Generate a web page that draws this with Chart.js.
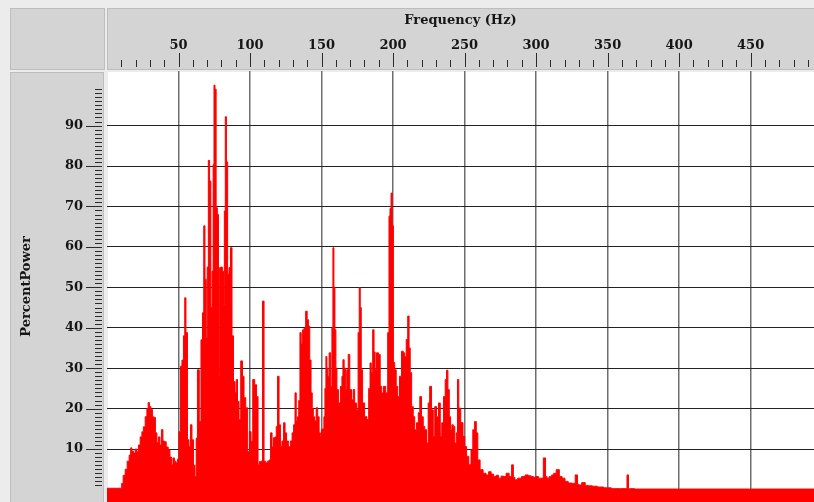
<!DOCTYPE html>
<html>
<head>
<meta charset="utf-8">
<script src="https://cdn.jsdelivr.net/npm/chart.js@4/dist/chart.umd.min.js"></script>
<style>
  html, body { margin: 0; padding: 0; background: #ececec; }
  #chart { display: block; }
</style>
</head>
<body>
<canvas id="chart" width="814" height="502"></canvas>
<script>
// DATA
const freqHz = [
  0, 9.9, 10.6, 12, 13.4, 14.8, 16.2, 16.9, 17.9, 19,
  20.4, 21.4, 22.5, 23.9, 24.9, 26, 27.4, 28.4, 29.1, 30.2,
  31.2, 32.3, 33.3, 34.4, 35.4, 36.5, 37.5, 38.6, 39.6, 40.7,
  42.1, 43.5, 44.5, 45.6, 46.6, 47.7, 48.7, 49.8, 50.8, 51.9,
  52.9, 54, 54.7, 55.7, 56.8, 57.8, 58.9, 59.9, 61, 62,
  62.7, 63.8, 65.2, 66.2, 67.3, 68, 69, 69.7, 70.4, 71.3,
  72.2, 73, 73.9, 74.5, 75.1, 75.9, 76.7, 77.6, 78.3, 79.2,
  80.2, 81.1, 81.8, 82.3, 83.1, 83.9, 84.8, 85.8, 86.9, 87.9,
  89, 90, 90.7, 91.8, 92.8, 94.2, 95.3, 96.3, 97.7, 99,
  100.2, 101.2, 102.6, 104, 105.1, 106.1, 107.2, 108.2, 109.3, 110.3,
  111.4, 112.8, 113.8, 114.9, 115.9, 117, 118, 118.7, 119.8, 120.8,
  121.7, 122.9, 124, 125, 126.1, 127.5, 128.9, 129.9, 131, 131.9,
  132.7, 133.6, 134.5, 135.3, 136.2, 137.3, 138.3, 139.5, 140.4, 141.3,
  142.2, 143.1, 143.9, 144.6, 145.7, 146.8, 147.8, 148.8, 149.5, 150.3,
  151.3, 152, 152.7, 153.4, 154.1, 154.8, 155.8, 156.9, 157.6, 158.3,
  159, 159.7, 160.4, 161.1, 162.5, 163.9, 164.6, 165.3, 166.3, 167.1,
  168.1, 169.2, 170.3, 171.6, 172.6, 173.7, 175.1, 176, 176.7, 177.4,
  178.1, 179.3, 181, 182.4, 183.5, 184.3, 185.2, 186.3, 187.1, 187.8,
  189.1, 190.5, 191.5, 192.6, 194, 195.7, 196.8, 197.5, 198.2, 199,
  199.8, 200.6, 201.7, 202.7, 203.8, 205.2, 206.6, 207.6, 208.7, 209.7,
  210.8, 211.6, 212.4, 213.6, 214.6, 215.7, 217.1, 218.2, 219.2, 220.6,
  221.6, 222.7, 224.1, 225, 226.2, 227.6, 228.6, 229.7, 231.1, 232.5,
  233.5, 234.6, 236, 236.9, 237.9, 238.8, 239.8, 240.6, 241.6, 242.6,
  243.7, 244.7, 245.4, 246.5, 248.2, 249.6, 250.7, 252.1, 253.8, 255.2,
  256.3, 257.7, 258.7, 259.8, 261.9, 264, 266.1, 267.5, 269.6, 271,
  273.1, 274.5, 276.6, 278, 280.1, 282.2, 283.6, 284.6, 285.7, 288.5,
  291.3, 293.4, 295.6, 297, 299.1, 300.6, 302.6, 304, 306.1, 307.1,
  308.1, 310.2, 311.6, 313, 315.2, 317.3, 319, 321.4, 323.5, 326.3,
  328.4, 329.5, 330.5, 333.3, 335.4, 337.5, 341, 344.5, 350.1, 355,
  363, 364.1, 365.1, 372.5, 494.3
];

const percentPower = [
  0.3, 0.3, 1.5, 3.5, 5, 7, 8.5, 10.3, 9.5, 9,
  10, 9.3, 11, 13, 14.3, 15.5, 18, 20, 21.5, 20.5,
  19.8, 18, 17.8, 14, 11.6, 13, 11, 14.8, 12, 11.8,
  10.5, 9.8, 8, 6.1, 7.8, 7, 6.6, 7.5, 14.3, 30.5,
  32, 38, 47.4, 38.8, 12.3, 10.6, 16, 12.3, 6, 3.2,
  12.7, 29.6, 16.8, 37, 43.7, 65.2, 52, 37.5, 55, 81.4,
  76.3, 45, 54, 80.4, 100, 99, 69.7, 68, 28.4, 54.9,
  55, 54, 45.7, 68.9, 92.2, 81, 53.2, 54.9, 59.8, 38,
  26.7, 24, 27.2, 21.8, 17.3, 31.8, 28, 22.7, 20.2, 9.4,
  14.3, 11.9, 27.2, 25.9, 23, 6.1, 6.9, 7, 46.6, 7,
  6.6, 7, 7.3, 14, 10.5, 12.8, 13, 15.6, 28, 16,
  10.6, 12, 16.5, 14, 12, 10.6, 12, 14, 16, 23.9,
  17, 18, 22, 38.8, 36, 39.5, 40, 44.1, 42, 40.4,
  32, 23.9, 20, 18, 17, 20.2, 18, 14, 13.1, 14.8,
  15, 18, 25, 32.9, 30, 28, 33.8, 25.5, 40, 59.8,
  50, 39.5, 30, 24.7, 21.4, 25.5, 28, 32.1, 30, 24.7,
  29.6, 33.4, 24.7, 22.2, 24.7, 21.4, 19.7, 38.8, 49.9, 45,
  29.6, 21.4, 18, 17.3, 25, 31.3, 28.9, 39.5, 34, 29.6,
  33.8, 33.4, 25.5, 23.9, 25.5, 23.9, 38.8, 67.6, 69.5, 73.3,
  65.2, 31.4, 29.6, 25.5, 23, 28, 34.2, 33.8, 32.9, 37.1,
  42.9, 35, 28.9, 20.5, 18, 14.8, 16.5, 19, 23, 18,
  15.6, 14.8, 11.5, 21.4, 25.5, 19.7, 13.1, 20.5, 18, 21.4,
  13.1, 16.5, 23, 27.2, 29.5, 24.7, 18, 14.8, 16, 15.6,
  11.5, 14, 27.2, 20.1, 16.5, 13.1, 10.6, 8.2, 6.1, 9.8,
  14.8, 16.8, 14, 7.3, 4.9, 4, 3.6, 4.4, 3.8, 3.2,
  3.5, 2.8, 3.3, 3.2, 4, 3.2, 6.1, 3, 2.4, 2.8,
  3.2, 3.6, 3.4, 3.2, 3, 3.2, 2.8, 2.8, 7.8, 3.2,
  2.8, 3.2, 3.6, 4, 4.9, 3.2, 2.8, 2, 1.6, 1.5,
  3.6, 1.3, 1.1, 1.7, 1, 0.9, 0.8, 0.6, 0.4, 0.2,
  0.2, 3.6, 0.2, 0.1, 0.1
];

const xTicks = [50, 100, 150, 200, 250, 300, 350, 400, 450];
const yTicks = [10, 20, 30, 40, 50, 60, 70, 80, 90];
const xMinorStep = 10;
const yMinorStep = 1;

const labelFont = { family: "'DejaVu Serif', serif", size: 13, weight: "bold" };
const panelGrey = "#d4d4d4";

// PANELS + MINOR TICKS
const panelPlugin = {
  id: "panels",
  beforeDraw(chart) {
    const ctx = chart.ctx;
    const xs = chart.scales.x;
    const ys = chart.scales.y;
    const a = chart.chartArea;

    ctx.save();
    ctx.fillStyle = "#ececec";
    ctx.fillRect(0, 0, chart.width, chart.height);

    ctx.fillStyle = panelGrey;
    ctx.strokeStyle = "#bdbdbd";
    ctx.lineWidth = 1;
    // corner
    ctx.fillRect(ys.left, xs.top, ys.right - ys.left - 2, xs.bottom - xs.top - 1);
    ctx.strokeRect(ys.left + 0.5, xs.top + 0.5, ys.right - ys.left - 3, xs.bottom - xs.top - 2);
    // top axis panel
    ctx.fillRect(xs.left, xs.top, xs.right - xs.left, xs.bottom - xs.top - 1);
    ctx.strokeRect(xs.left + 0.5, xs.top + 0.5, xs.right - xs.left, xs.bottom - xs.top - 2);
    // left axis panel
    ctx.fillRect(ys.left, ys.top + 1, ys.right - ys.left - 3, ys.bottom - ys.top);
    ctx.strokeRect(ys.left + 0.5, ys.top + 1.5, ys.right - ys.left - 4, ys.bottom - ys.top);
    // plot
    ctx.fillStyle = "#ffffff";
    ctx.fillRect(a.left + 1, a.top + 1, a.right - a.left, a.bottom - a.top);
    ctx.restore();
  },
  afterDraw(chart) {
    const ctx = chart.ctx;
    const xs = chart.scales.x;
    const ys = chart.scales.y;

    ctx.save();
    ctx.strokeStyle = "#2a2a2a";
    ctx.lineWidth = 1;
    ctx.beginPath();
    for (let v = xMinorStep; v < xs.max; v += xMinorStep) {
      const px = Math.round(xs.getPixelForValue(v)) + 0.5;
      const major = xTicks.includes(v);
      ctx.moveTo(px, xs.bottom - (major ? 18 : 11));
      ctx.lineTo(px, xs.bottom - 4);
    }
    for (let v = yMinorStep; v < 100; v += yMinorStep) {
      const py = Math.round(ys.getPixelForValue(v)) + 0.5;
      const major = yTicks.includes(v);
      ctx.moveTo(ys.right - (major ? 21 : 12), py);
      ctx.lineTo(ys.right - 5, py);
    }
    ctx.stroke();
    ctx.restore();
  }
};

// CHART
const points = freqHz.map((f, i) => ({ x: f, y: percentPower[i] }));

new Chart(document.getElementById("chart").getContext("2d"), {
  type: "line",
  data: {
    datasets: [{
      data: points,
      borderColor: "#ff0000",
      backgroundColor: "#ff0000",
      borderWidth: 1,
      pointRadius: 0,
      stepped: "middle",
      fill: "start"
    }]
  },
  options: {
    responsive: false,
    animation: false,
    devicePixelRatio: 1,
    layout: { autoPadding: false, padding: { left: 10, top: 8, right: 0, bottom: 0 } },
    plugins: { legend: { display: false }, tooltip: { enabled: false } },
    scales: {
      x: {
        type: "linear",
        position: "top",
        min: 0,
        max: 494.3,
        z: 1,
        afterBuildTicks: s => { s.ticks = xTicks.map(v => ({ value: v })); },
        afterFit: s => { s.height = 63; s.paddingLeft = 0; s.paddingRight = 0; },
        grid: { color: "#6e6e6e", lineWidth: 1.5, drawTicks: false },
        border: { display: false },
        ticks: { font: labelFont, color: "#151515", padding: 18, maxRotation: 0 },
        title: {
          display: true,
          text: "Frequency (Hz)",
          font: labelFont,
          color: "#151515",
          padding: { top: 5, bottom: 0 }
        }
      },
      y: {
        type: "linear",
        position: "left",
        min: -3.1,
        max: 103.5,
        z: 1,
        afterBuildTicks: s => { s.ticks = yTicks.map(v => ({ value: v })); },
        afterFit: s => { s.width = 97; s.paddingTop = 0; s.paddingBottom = 0; },
        grid: { color: "#222222", lineWidth: 1, drawTicks: false },
        border: { display: false },
        ticks: { font: labelFont, color: "#151515", padding: 24 },
        title: {
          display: true,
          text: "PercentPower",
          font: labelFont,
          color: "#151515",
          padding: { top: 9, bottom: 0 }
        }
      }
    }
  },
  plugins: [panelPlugin]
});
</script>
</body>
</html>
